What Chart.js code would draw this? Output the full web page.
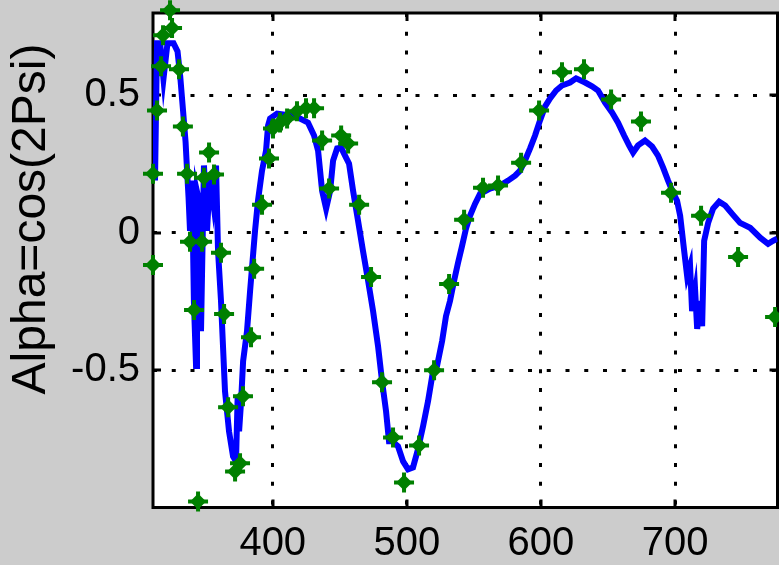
<!DOCTYPE html>
<html>
<head>
<meta charset="utf-8">
<script src="https://cdn.jsdelivr.net/npm/chart.js@4.4.1/dist/chart.umd.min.js"></script>
<style>
  html, body { margin: 0; padding: 0; background: #cccccc; }
  canvas { display: block; }
</style>
</head>
<body>
<canvas id="alphaChart" width="779" height="565"></canvas>
<script>
// blue curve: wavelength (nm) and alpha
const lineWl = [
  312.2, 313.7, 316.0, 318.5, 321.5, 326, 329, 331, 333.1, 335, 336.1, 337.2, 338.3,
  339.8, 341.2, 342.8, 343.5, 345.0, 346.5, 348.7, 351.0, 353.2, 355.5, 357.7, 359.2,
  361.4, 364.4, 367.4, 370.4, 372.6, 373.8, 374.9, 376.4, 377.9, 380.8, 383.1, 386.8,
  389.0, 392.0, 395.0, 396.5, 398.0, 403.2, 412.9, 420.4, 426.3, 430.8, 433.8, 436.8,
  439.8, 442.8, 445.0, 448.0, 451.0, 453.9, 456.9, 459.9, 463.6, 467.3, 471.1, 474.8,
  478.5, 481.5, 484.5, 486.7, 489.0, 493.4, 497.2, 500.9, 504.6, 508.3, 512.1, 515.8,
  519.5, 522.5, 526.3, 529.2, 532.2, 535.2, 538.2, 541.2, 544.1, 547.1, 550.9, 554.6,
  562.0, 569.5, 575.5, 580.7, 584.4, 588.1, 591.9, 595.6, 599.3, 603.1, 606.8, 611.3,
  615.7, 621.7, 626.2, 632.9, 638.1, 642.6, 647.8, 653.0, 657.5, 662.0, 665.7, 668.7,
  672.4, 677.6, 682.9, 687.3, 691.1, 694.8, 698.5, 701.5, 703.8, 706.8, 709.0, 711.2,
  712.7, 715.0, 716.5, 718.7, 720.2, 721.7, 724.7, 728.4, 732.9, 737.4, 742.6, 748.5,
  756.0, 763.5, 769.4, 773.2, 776.2
];
const lineAlpha = [
  0.19, 0.69, 0.69, 0.56, 0.69, 0.69, 0.66, 0.57, 0.445, 0.33, 0.226, 0.13, 0.007,
  0.19, -0.25, -0.485, 0.15, 0.117, -0.358, 0.245, 0.007, 0.208, 0.117, 0.245, -0.066,
  -0.248, -0.577, -0.723, -0.814, -0.832, -0.6, -0.723, -0.613, -0.467, -0.358, -0.212, 0.007,
  0.117, 0.226, 0.299, 0.39, 0.416, 0.434, 0.427, 0.416, 0.401, 0.354, 0.299, 0.153,
  0.088, 0.153, 0.263, 0.307, 0.31, 0.281, 0.252, 0.153, 0.044, -0.066, -0.175, -0.285,
  -0.412, -0.54, -0.65, -0.759, -0.759, -0.777, -0.832, -0.861, -0.854, -0.788, -0.704, -0.613,
  -0.504, -0.485, -0.394, -0.303, -0.248, -0.175, -0.109, -0.047, 0.015, 0.062, 0.106, 0.142,
  0.161, 0.172, 0.19, 0.208, 0.226, 0.263, 0.307, 0.354, 0.409, 0.46, 0.489, 0.518,
  0.536, 0.547, 0.562, 0.547, 0.533, 0.518, 0.474, 0.438, 0.401, 0.354, 0.318, 0.292,
  0.318, 0.336, 0.314, 0.281, 0.237, 0.19, 0.146, 0.117, 0.062, -0.066, -0.157, -0.12,
  -0.285, -0.212, -0.35, -0.248, -0.34, -0.029, 0.036, 0.088, 0.113, 0.099, 0.069, 0.036,
  0.018, -0.018, -0.04, -0.029, -0.022
];

// green markers
const markWl = [
  310.7, 310.7, 313.7, 316.7, 318.2, 323.4, 324.9, 330.1, 333.0, 336.1, 338.3, 347.3,
  341.3, 344.3, 352.5, 348.7, 356.2, 361.4, 363.7, 366.7, 371.9, 375.6, 377.8, 383.8,
  386.1, 392.0, 397.2, 400.2, 405.4, 410.7, 418.1, 424.8, 430.8, 436.8, 442.0, 451.0,
  456.2, 464.4, 473.3, 481.5, 489.7, 497.9, 509.1, 520.3, 531.5, 542.7, 556.8, 568.0,
  585.2, 598.6, 615.7, 632.1, 652.3, 674.6, 697.0, 719.4, 747.0, 774.6
];
const markAlpha = [
  0.215, -0.117, 0.445, 0.606, 0.719, 0.81, 0.745, 0.595, 0.387, 0.215, -0.033, -0.033,
  -0.281, -0.978, 0.292, 0.2, 0.212, -0.073, -0.296, -0.635, -0.869, -0.839, -0.595, -0.38,
  -0.131, 0.102, 0.27, 0.38, 0.401, 0.416, 0.442, 0.453, 0.453, 0.336, 0.161, 0.354,
  0.325, 0.102, -0.161, -0.544, -0.745, -0.909, -0.774, -0.5, -0.186, 0.047, 0.164, 0.172,
  0.255, 0.445, 0.584, 0.595, 0.485, 0.405, 0.146, 0.062, -0.088, -0.307
];

const xTicks = [400, 500, 600, 700];
const yTicks = [-0.5, 0, 0.5];
const yLabel = 'Alpha=cos(2Psi)';

const linePts = lineWl.map((x, i) => ({ x: x, y: lineAlpha[i] }));
const markPts = markWl.map((x, i) => ({ x: x, y: markAlpha[i] }));

// white plot box, black frame, inward ticks, rotated y label
const frame = {
  id: 'frame',
  beforeDraw(chart) {
    const { ctx, chartArea: a } = chart;
    ctx.save();
    ctx.fillStyle = '#ffffff';
    ctx.fillRect(a.left, a.top, a.right - a.left, a.bottom - a.top);
    ctx.restore();
  },
  beforeDatasetsDraw(chart) {
    const { ctx, chartArea: a, scales } = chart;
    ctx.save();
    ctx.strokeStyle = '#000';
    ctx.lineWidth = 3;
    ctx.strokeRect(a.left, a.top, a.right - a.left, a.bottom - a.top);
    ctx.beginPath();
    xTicks.forEach((v) => {
      const px = Math.round(scales.x.getPixelForValue(v));
      ctx.moveTo(px, a.bottom); ctx.lineTo(px, a.bottom - 8);
      ctx.moveTo(px, a.top); ctx.lineTo(px, a.top + 8);
    });
    yTicks.forEach((v) => {
      const py = Math.round(scales.y.getPixelForValue(v));
      ctx.moveTo(a.left, py); ctx.lineTo(a.left + 8, py);
      ctx.moveTo(a.right, py); ctx.lineTo(a.right - 8, py);
    });
    ctx.stroke();
    ctx.restore();
  },
  afterDraw(chart) {
    const { ctx } = chart;
    ctx.save();
    ctx.translate(32, 219);
    ctx.rotate(-Math.PI / 2);
    ctx.fillStyle = '#000';
    ctx.font = '48px "Liberation Sans"';
    ctx.textAlign = 'center';
    ctx.textBaseline = 'middle';
    ctx.fillText(yLabel, 0, 0);
    ctx.restore();
  }
};

// drop the automatic label overflow padding so the plot box sits where it should
const noPad = (s) => {
  s.paddingTop = 0;
  s.paddingBottom = 0;
  s.paddingLeft = 0;
  s.paddingRight = 0;
};

Chart.defaults.font.family = '"Liberation Sans", Arial, sans-serif';
Chart.defaults.color = '#000';

new Chart(document.getElementById('alphaChart'), {
  type: 'scatter',
  data: {
    datasets: [
      {
        data: markPts,
        pointStyle: 'rectRot',
        pointRadius: 8,
        pointBackgroundColor: '#008000',
        pointBorderWidth: 0,
        clip: false,
        order: 0,
      },
      {
        data: markPts,
        pointStyle: 'cross',
        pointRadius: 10,
        pointBorderColor: '#008000',
        pointBorderWidth: 4,
        clip: false,
        order: 0,
      },
      {
        data: linePts,
        showLine: true,
        borderColor: '#0000ff',
        borderWidth: 6,
        borderJoinStyle: 'miter',
        pointRadius: 0,
        tension: 0,
        order: 2,
      },
    ],
  },
  options: {
    responsive: false,
    animation: false,
    events: [],
    layout: { autoPadding: false, padding: { top: 13, right: 1.5, left: 0, bottom: 0 } },
    plugins: { legend: { display: false }, tooltip: { enabled: false } },
    scales: {
      x: {
        type: 'linear',
        min: 310.7,
        max: 776.4,
        afterFit: (s) => { s.height = 57.5; noPad(s); },
        afterBuildTicks: (s) => { s.ticks = xTicks.map((v) => ({ value: v })); },
        grid: { color: '#000', lineWidth: 3, drawTicks: false },
        border: { display: false, dash: [4, 14.75] },
        ticks: {
          font: { size: 40 },
          padding: 12,
          maxRotation: 0,
          autoSkip: false,
          callback: (v) => String(v),
        },
      },
      y: {
        min: -1,
        max: 0.8,
        afterFit: (s) => { s.width = 153; noPad(s); },
        afterBuildTicks: (s) => { s.ticks = yTicks.map((v) => ({ value: v })); },
        grid: { color: '#000', lineWidth: 3, drawTicks: false },
        border: { display: false, dash: [4, 14.75] },
        ticks: {
          font: { size: 40 },
          padding: 13,
          autoSkip: false,
          callback: (v) => String(v),
        },
      },
    },
  },
  plugins: [frame],
});
</script>
</body>
</html>
